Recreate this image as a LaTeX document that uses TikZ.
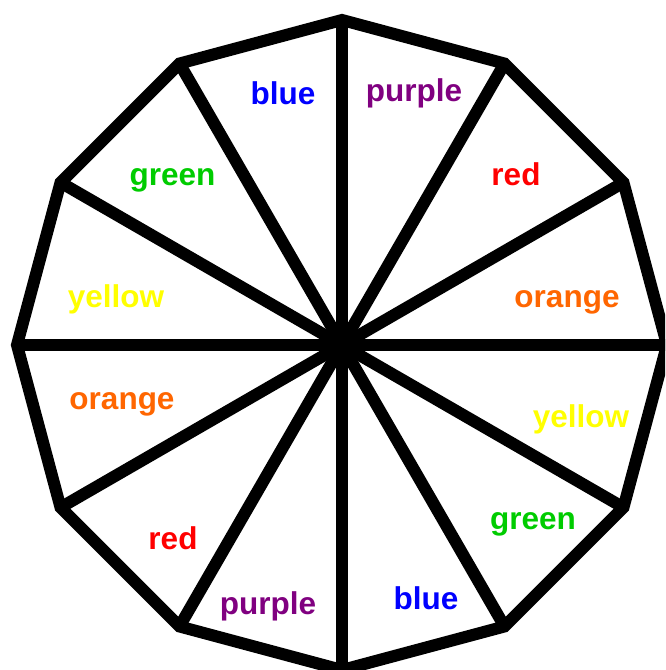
\documentclass[tikz,border=0pt]{standalone}
\usepackage{fontspec}
\setmainfont{Liberation Sans}
\usetikzlibrary{calc}
\definecolor{cblue}{RGB}{0,0,255}
\definecolor{cpurple}{RGB}{128,0,128}
\definecolor{cgreen}{RGB}{0,204,0}
\definecolor{cred}{RGB}{255,0,0}
\definecolor{corange}{RGB}{255,102,0}
\definecolor{cyellow}{RGB}{255,255,0}
\tikzset{
  edge/.style={line width=12pt, line join=miter, black},
  lbl/.style={anchor=base, inner sep=0pt, font=\fontsize{31.5}{36}\selectfont\bfseries}
}
\begin{document}
\begin{tikzpicture}[x=1pt,y=-1pt]
\useasboundingbox (0,0) rectangle (665,670);
\clip (0,0) rectangle (665,670);
\fill[white] (0,0) rectangle (665,670);
\coordinate (c) at (342,345);
\foreach \i in {0,...,11} {
  \coordinate (v\i) at ($(c)+(\i*30:325)$);
}
\draw[edge] (v0) -- (v1) -- (v2) -- (v3) -- (v4) -- (v5) -- (v6) -- (v7) -- (v8) -- (v9) -- (v10) -- (v11) -- cycle;
\foreach \i in {0,...,11} {
  \draw[edge] (c) -- (v\i);
}
\fill[black] (c) circle[radius=17];
\node[lbl, text=cblue]   (l1)  at (283,104) {blue};
\node[lbl, text=cpurple] (l2)  at (414,101) {purple};
\node[lbl, text=cgreen]  (l3)  at (172.5,185) {green};
\node[lbl, text=cred]    (l4)  at (516,185) {red};
\node[lbl, text=cyellow] (l5)  at (116,307) {yellow};
\node[lbl, text=corange] (l6)  at (567,307) {orange};
\node[lbl, text=corange] (l7)  at (122,409) {orange};
\node[lbl, text=cyellow] (l8)  at (581,427) {yellow};
\node[lbl, text=cgreen]  (l9)  at (533,529) {green};
\node[lbl, text=cred]    (l10) at (173,549) {red};
\node[lbl, text=cblue]   (l11) at (426,609) {blue};
\node[lbl, text=cpurple] (l12) at (268,614) {purple};
\end{tikzpicture}
\end{document}
